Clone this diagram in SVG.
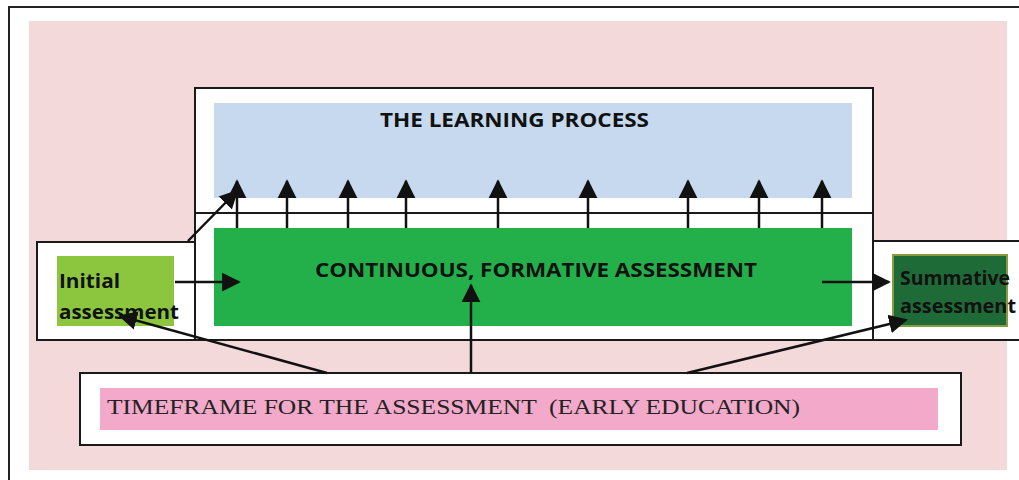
<svg xmlns="http://www.w3.org/2000/svg" width="1019" height="480" viewBox="0 0 1019 480">
<defs>
<style>
.frame{fill:#ffffff;stroke:#1a1a1a;stroke-width:2}
.ln{stroke:#111;stroke-width:2.5;fill:none;marker-end:url(#ahb)}
.sb{font-family:"Open Sans","Liberation Sans",sans-serif;font-weight:bold;fill:#111}
.sf{font-family:"Liberation Serif","DejaVu Serif",serif;fill:#222;white-space:pre}
</style>
<marker id="ahb" viewBox="0 0 10 10" refX="9" refY="5" markerWidth="7.5" markerHeight="8" orient="auto">
<path d="M0,0 L10,5 L0,10 Z" fill="#111"/>
</marker>
</defs>
<rect x="0" y="0" width="1019" height="480" fill="#ffffff"/>
<rect x="9" y="7" width="1030" height="490" fill="#ffffff" stroke="#222" stroke-width="2"/>
<rect x="29" y="21" width="978" height="449" fill="#f3d9da"/>

<g id="learning-process">
<rect class="frame" x="195" y="88" width="678" height="125"/>
<rect x="214" y="103" width="638" height="95" fill="#c6d9ee"/>
<text class="sb" x="380" y="127" font-size="20" textLength="269" lengthAdjust="spacingAndGlyphs">THE LEARNING PROCESS</text>
</g>

<g id="formative">
<rect class="frame" x="195" y="213" width="678" height="127"/>
<rect x="214" y="228" width="638" height="98" fill="#23b04b"/>
<text class="sb" x="315" y="277" font-size="19" textLength="442" lengthAdjust="spacingAndGlyphs">CONTINUOUS, FORMATIVE ASSESSMENT</text>
</g>

<g id="initial">
<rect class="frame" x="37" y="242" width="158" height="98"/>
<rect x="57" y="256" width="117" height="70" fill="#8cc63f"/>
<text class="sb" x="59" y="288" font-size="20" textLength="61" lengthAdjust="spacingAndGlyphs">Initial</text>
<text class="sb" x="59" y="319" font-size="20" textLength="120" lengthAdjust="spacingAndGlyphs">assessment</text>
</g>

<g id="summative">
<rect class="frame" x="873" y="241" width="160" height="99"/>
<rect x="893" y="255" width="114" height="71" fill="#1e6b38" stroke="#8a9a40" stroke-width="2"/>
<text class="sb" x="900" y="285" font-size="19" textLength="110" lengthAdjust="spacingAndGlyphs">Summative</text>
<text class="sb" x="900" y="313" font-size="19" textLength="116" lengthAdjust="spacingAndGlyphs">assessment</text>
</g>

<g id="timeframe">
<rect class="frame" x="80" y="373" width="881" height="72"/>
<rect x="100" y="388" width="838" height="42" fill="#f3a9c9"/>
<text class="sf" xml:space="preserve" x="107" y="414" font-size="21" textLength="693" lengthAdjust="spacingAndGlyphs">TIMEFRAME FOR THE ASSESSMENT  (EARLY EDUCATION)</text>
</g>

<g id="connectors">
<line class="ln" x1="237" y1="228" x2="237" y2="181"/>
<line class="ln" x1="287" y1="228" x2="287" y2="181"/>
<line class="ln" x1="348" y1="228" x2="348" y2="181"/>
<line class="ln" x1="406" y1="228" x2="406" y2="181"/>
<line class="ln" x1="498" y1="228" x2="498" y2="181"/>
<line class="ln" x1="588" y1="228" x2="588" y2="181"/>
<line class="ln" x1="688" y1="228" x2="688" y2="181"/>
<line class="ln" x1="759" y1="228" x2="759" y2="181"/>
<line class="ln" x1="822" y1="228" x2="822" y2="181"/>
<line class="ln" x1="188" y1="241" x2="237" y2="191"/>
<line class="ln" x1="175" y1="282" x2="239" y2="282"/>
<line class="ln" x1="822" y1="282" x2="889" y2="282"/>
<line class="ln" x1="471" y1="373" x2="471" y2="285"/>
<line class="ln" x1="327" y1="373" x2="120" y2="316"/>
<line class="ln" x1="687" y1="373" x2="906" y2="320"/>
</g>
</svg>
